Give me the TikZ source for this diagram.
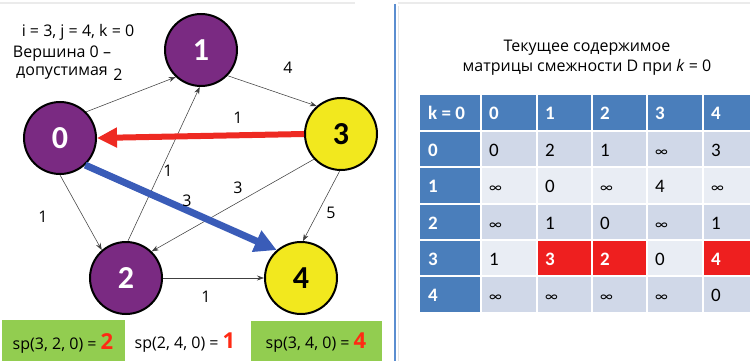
\documentclass[tikz,border=0pt]{standalone}
\usepackage{fontspec}
\setmainfont{Open Sans}
\newfontfamily\tabfont{Carlito}
\usetikzlibrary{arrows.meta}
\definecolor{vpurple}{HTML}{7A2A82}
\definecolor{vyellow}{HTML}{F2E81E}
\definecolor{hblue}{HTML}{4A7EBB}
\definecolor{rowdark}{HTML}{D0D8E8}
\definecolor{rowlight}{HTML}{E9EDF4}
\definecolor{cellred}{HTML}{EE1F1F}
\definecolor{numred}{HTML}{FF2A14}
\definecolor{spgreen}{HTML}{92CD50}
\definecolor{redarrow}{HTML}{EE2A22}
\definecolor{bluearrow}{HTML}{3A5CB8}
\definecolor{sepblue}{HTML}{5B8ED0}
\newcommand\infsym{{\fontsize{15}{15}\selectfont ∞}}
\begin{document}
\begin{tikzpicture}[x=1pt,y=-1pt,
  vert/.style={circle,draw=black,line width=2pt,minimum size=72pt,inner sep=0pt,
    font=\tabfont\bfseries\fontsize{32}{32}\selectfont},
  thin/.style={draw=black!75,line width=0.55pt,-{Stealth[length=7pt,width=5pt]}},
  elab/.style={font=\fontsize{16}{18}\selectfont,inner sep=0pt},
  txt/.style={font=\fontsize{16}{19}\selectfont,inner sep=0pt},
  cell/.style={anchor=base west,inner sep=0pt,font=\tabfont\fontsize{19}{19}\selectfont},
  hcell/.style={cell,text=white,font=\tabfont\bfseries\fontsize{19}{19}\selectfont}
]
\useasboundingbox (0,0) rectangle (750,361);
% top faint lines and separator
\draw[black!8,line width=2pt] (0,3) -- (355,3);
\draw[black!8,line width=2pt] (398,3) -- (750,3);
\draw[sepblue,line width=2pt] (395,4) -- (395,361);
\draw[black!10,line width=1pt] (398,6) -- (398,361);

% bottom boxes
\fill[spgreen] (2,320) rectangle (125,361);
\fill[spgreen] (251,321) rectangle (382,361);
\node[txt] (sp1) at (63,343) {sp(3, 2, 0) = {\color{numred}\bfseries\fontsize{22}{22}\selectfont 2}};
\node[txt] (sp2) at (185,343) {sp(2, 4, 0) = {\color{numred}\bfseries\fontsize{22}{22}\selectfont 1}};
\node[txt] (sp3) at (316,343) {sp(3, 4, 0) = {\color{numred}\bfseries\fontsize{22}{22}\selectfont 4}};

% graph nodes
\node[vert,fill=vpurple,text=white] (n0) at (60,138) {0};
\node[vert,fill=vpurple,text=white] (n1) at (201,50) {1};
\node[vert,fill=vpurple,text=white] (n2) at (126,278) {2};
\node[vert,fill=vyellow,text=black] (n3) at (341,134) {3};
\node[vert,fill=vyellow,text=black] (n4) at (301,278) {4};

% thin edges
\draw[thin] (n0.45) -- (n1.227);
\draw[thin] (n1.316) -- (n3.131);
\draw[thin] (n0.270) -- (n2.131);
\draw[thin] (n2.87) -- (n1.268);
\draw[thin] (n3.223) -- (n2.46);
\draw[thin] (n3.268) -- (n4.87);
\draw[thin] (n2.east) -- (n4.west);
% thick edges
\draw[redarrow,line width=6pt,-{Triangle[length=20pt,width=19pt]}] (n3.west) -- (n0.east);
\draw[bluearrow,line width=7pt,-{Triangle[length=22pt,width=22pt]}] (n0.-47) -- (n4.131);

% edge labels
\node[elab] (l01) at (118,75) {2};
\node[elab] (l13) at (288,68) {4};
\node[elab] (l30) at (238,118) {1};
\node[elab] (l21) at (168,171) {1};
\node[elab] (l04) at (187,201) {3};
\node[elab] (l32) at (238,188) {3};
\node[elab] (l02) at (43,217) {1};
\node[elab] (l34) at (331,213) {5};
\node[elab] (l24) at (206,297) {1};

% left texts
\node[txt] (ijk) at (78,32) {i = 3, j = 4, k = 0};
\node[txt,align=center,font=\fontsize{16}{18}\selectfont] (dop) at (62,63) {Вершина 0 –\\допустимая};

% title
\node[txt,align=center,font=\fontsize{16}{20}\selectfont] (title) at (587,58)
  {Текущее содержимое\\матрицы смежности D при \textit{k} = 0};

% table fills
\fill[hblue] (420,95) rectangle (750,131);
\fill[hblue] (420,131) rectangle (481,312);
\fill[rowdark] (481,131) rectangle (750,167);
\fill[rowlight] (481,167) rectangle (750,204);
\fill[rowdark] (481,204) rectangle (750,240);
\fill[rowlight] (481,240) rectangle (750,276);
\fill[rowdark] (481,276) rectangle (750,312);
\fill[cellred] (537,240) rectangle (647,276);
\fill[cellred] (703,240) rectangle (750,276);
\foreach \x in {481,537,592,647,703}
  \draw[white,line width=1.5pt] (\x,95) -- (\x,312);
\foreach \y in {131,167,204,240,276}
  \draw[white,line width=1.5pt] (420,\y) -- (750,\y);

% header row
\foreach \x/\t [count=\i] in {428/k = 0,489/0,545/1,600/2,655/3,711/4}
  \node[hcell] (h\i) at (\x,120) {\t};
% first column
\foreach \y/\t [count=\i] in {156/0,192/1,229/2,265/3,301/4}
  \node[hcell] (r\i) at (428,\y) {\t};
% body
\foreach \x/\t [count=\i] in {489/0,545/2,600/1,655/\infsym,711/3}
  \node[cell] (a\i) at (\x,156) {\t};
\foreach \x/\t [count=\i] in {489/\infsym,545/0,600/\infsym,655/4,711/\infsym}
  \node[cell] (b\i) at (\x,192) {\t};
\foreach \x/\t [count=\i] in {489/\infsym,545/1,600/0,655/\infsym,711/1}
  \node[cell] (c\i) at (\x,229) {\t};
\node[cell] (d1) at (489,265) {1};
\node[hcell] (d2) at (545,265) {3};
\node[hcell] (d3) at (600,265) {2};
\node[cell] (d4) at (655,265) {0};
\node[hcell] (d5) at (711,265) {4};
\foreach \x/\t [count=\i] in {489/\infsym,545/\infsym,600/\infsym,655/\infsym,711/0}
  \node[cell] (e\i) at (\x,301) {\t};
\end{tikzpicture}
\end{document}
